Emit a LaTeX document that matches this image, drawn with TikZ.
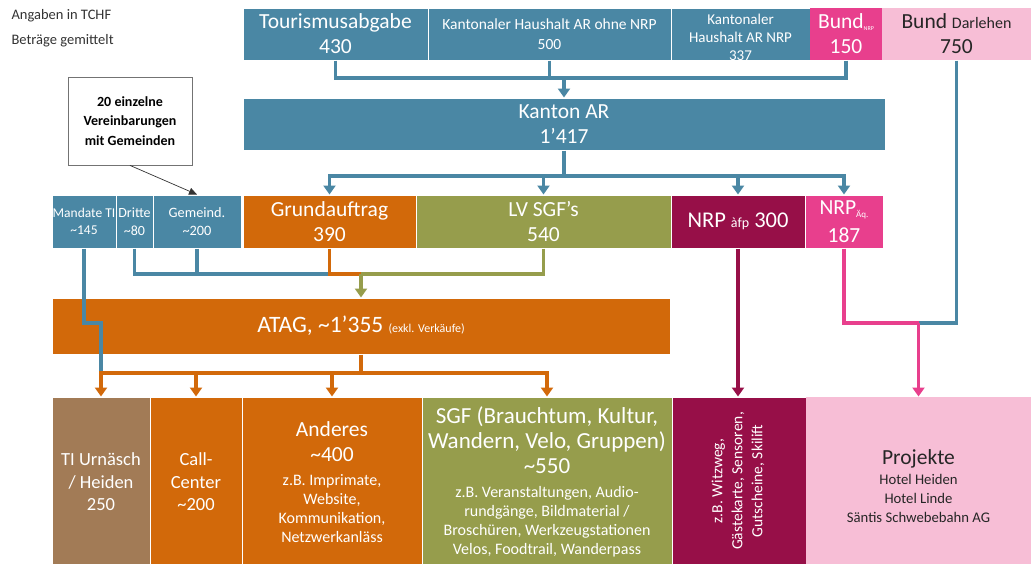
\documentclass[tikz,border=0pt]{standalone}
\usepackage{fontspec}
\setmainfont{Carlito}
\usetikzlibrary{arrows.meta}
\definecolor{cblue}{HTML}{4A87A4}
\definecolor{corange}{HTML}{D2690A}
\definecolor{colive}{HTML}{969D4C}
\definecolor{cwine}{HTML}{970F48}
\definecolor{cpink}{HTML}{E83F8D}
\definecolor{clpink}{HTML}{F7BED6}
\definecolor{cbrown}{HTML}{A27B56}
\newcommand\fbig{\fontsize{21.5}{25}\selectfont}
\newcommand\fsgf{\fontsize{23}{25}\selectfont}
\newcommand\fmid{\fontsize{18.5}{22.5}\selectfont}
\newcommand\fdet{\fontsize{16}{19}\selectfont}
\newcommand\ftl{\textasciitilde}
\tikzset{
 box/.style={draw=white, line width=1pt, inner sep=0pt, align=center, text=white},
 conn/.style={line width=3.2pt},
 tip/.style={-{Triangle[length=9pt,width=12pt]}},
 lbl/.style={anchor=west, text=black!80, font=\fontsize{14.5}{17}\selectfont},
}
\begin{document}
\begin{tikzpicture}[x=1pt,y=-1pt]
\useasboundingbox (0,0) rectangle (1031,563);
\fill[white] (0,0) rectangle (1031,563);
% legend
\node[lbl] (ang) at (8,16) {Angaben in TCHF};
\node[lbl] (bet) at (8,41) {Beträge gemittelt};
% top row
\node[box, fill=cblue, minimum width=185, minimum height=52, font=\fbig] (tour) at (335.5,34) {Tourismusabgabe\\430};
\node[box, fill=cblue, minimum width=243, minimum height=52, font=\fontsize{15.5}{20}\selectfont] (k500) at (549.5,34) {Kantonaler Haushalt AR ohne NRP\\500};
\begin{scope}
\clip (671,8) rectangle (810,60);
\node[box, fill=cblue, minimum width=139, minimum height=52] (k337) at (740.5,34) {};
\node[align=center, text=white, inner sep=0pt, font=\fontsize{15}{18}\selectfont] (k337t) at (740.5,37) {Kantonaler\\Haushalt AR NRP\\337};
\end{scope}
\node[box, fill=cpink, draw=none, minimum width=72, minimum height=52, font=\fbig] (bundnrp) at (846,34) {Bund\raisebox{-2pt}{\fontsize{6}{6}\selectfont NRP}\\150};
\node[box, fill=clpink, draw=none, minimum width=149, minimum height=52, text=black!85, font=\fbig] (bundd) at (956.5,34) {Bund {\fontsize{16}{18}\selectfont Darlehen}\\750};
% Kanton
\node[box, fill=cblue, minimum width=642, minimum height=52, font=\fbig] (kanton) at (564,124) {Kanton AR\\1’417};
% second row
\node[box, fill=cblue, minimum width=64, minimum height=53, font=\fontsize{13.5}{17}\selectfont] (mandate) at (84,221.5) {Mandate TI\\\ftl 145};
\node[box, fill=cblue, minimum width=37, minimum height=53, font=\fontsize{14}{18}\selectfont] (dritte) at (134.5,221.5) {Dritte\\\ftl 80};
\node[box, fill=cblue, minimum width=88, minimum height=53, font=\fontsize{14.3}{18}\selectfont] (gem) at (197,221.5) {Gemeind.\\\ftl 200};
\node[box, fill=corange, minimum width=173, minimum height=53, font=\fbig] (grund) at (329.5,221.5) {Grundauftrag\\390};
\node[box, fill=colive, minimum width=255, minimum height=53, font=\fbig] (lv) at (543.5,221.5) {LV SGF’s\\540};
\node[box, fill=cwine, minimum width=134, minimum height=53, font=\fontsize{22.5}{25}\selectfont] (nrpafp) at (738,221.5) {NRP {\fontsize{14}{15}\selectfont àfp} 300};
\node[box, fill=cpink, minimum width=78, minimum height=53, font=\fbig] (nrpaq) at (844,221.5) {NRP\raisebox{-3pt}{\fontsize{9}{9}\selectfont Äq.}\\[3pt]187};
% callout
\node[draw=black!55, fill=white, line width=0.8pt, minimum width=124, minimum height=88, inner sep=0pt, align=center, font=\bfseries\fontsize{14}{19.5}\selectfont, text=black] (callout) at (130,121) {20 einzelne\\Vereinbarungen\\mit Gemeinden};
% ATAG
\node[box, fill=corange, minimum width=618, minimum height=56, font=\fontsize{23.5}{25}\selectfont] (atag) at (361,326) {ATAG, \ftl 1’355 {\fontsize{12}{14}\selectfont (exkl. Verkäufe)}};
% bottom row
\node[box, fill=cbrown, minimum width=98, minimum height=170, font=\fmid] (ti) at (101,482) {TI Urnäsch\\/ Heiden\\250};
\node[box, fill=corange, minimum width=92, minimum height=170, font=\fmid] (call) at (196,482) {Call-\\Center\\\ftl 200};
\node[box, fill=corange, minimum width=180, minimum height=170, font=\fbig] (and) at (332,482) {Anderes\\\ftl 400\\[-1pt]{\fdet z.B. Imprimate,}\\[-6pt]{\fdet Website,}\\[-6pt]{\fdet Kommunikation,}\\[-6pt]{\fdet Netzwerkanläss}};
\node[box, fill=colive, minimum width=250, minimum height=170, font=\fsgf] (sgf) at (547,482) {SGF (Brauchtum, Kultur,\\Wandern, Velo, Gruppen)\\\ftl 550\\[-1pt]{\fdet z.B. Veranstaltungen, Audio-}\\[-6pt]{\fdet rundgänge, Bildmaterial /}\\[-6pt]{\fdet Broschüren, Werkzeugstationen}\\[-6pt]{\fdet Velos, Foodtrail, Wanderpass}};
\node[box, fill=cwine, minimum width=134, minimum height=170] (nrpd) at (739,482) {};
\node[rotate=90, align=center, text=white, font=\fontsize{15.5}{20}\selectfont] (nrpdt) at (738,481) {z.B. Witzweg,\\Gästekarte, Sensoren,\\Gutscheine, Skilift};
\node[box, fill=clpink, draw=none, minimum width=229, minimum height=170] (proj) at (920.5,482) {};
\node[align=center, text=black!85, inner sep=0pt, font=\fbig] (projt) at (918.5,486) {Projekte\\[-5pt]{\fontsize{14.7}{19}\selectfont Hotel Heiden}\\[-6pt]{\fontsize{14.7}{19}\selectfont Hotel Linde}\\[-6pt]{\fontsize{14.7}{19}\selectfont Säntis Schwebebahn AG}};
% connectors top
\coordinate (topj) at (564,78);
\draw[conn,cblue] (tour.south) |- (topj);
\draw[conn,cblue] (bundnrp.south) |- (topj);
\draw[conn,cblue] (k500.south) -- (k500.south |- topj);
\draw[conn,cblue,tip] (topj) -- (kanton.north);
% from Kanton
\coordinate (kj) at (564,176);
\draw[conn,cblue] (kanton.south) -- (kj);
\draw[conn,cblue,tip] (kj) -| (grund.north);
\draw[conn,cblue,tip] (kj) -| (lv.north);
\draw[conn,cblue,tip] (kj) -| (nrpafp.north);
\draw[conn,cblue,tip] (kj) -| (nrpaq.north);
% callout arrow
\draw[-{Triangle[length=8pt,width=7pt]}, line width=0.7pt, black!80] (callout.south) -- (gem.north);
% into ATAG
\coordinate (aj) at (361,274);
\draw[conn,cblue] (dritte.south) |- (grund.south |- aj);
\draw[conn,cblue] (gem.south) -- (gem.south |- aj);
\draw[conn,corange] (grund.south) |- (aj);
\draw[conn,colive] (lv.south) |- (aj);
\draw[conn,colive,tip] (aj) -- (atag.north);
% Mandate line
\coordinate (mj) at (84,323);
\coordinate (bj) at (361,373);
\draw[conn,cblue] (mandate.south) -- (mj) -| (ti.north |- bj);
% out of ATAG
\draw[conn,corange] (atag.south) -- (bj);
\draw[conn,corange,tip] (bj) -| (ti.north);
\draw[conn,corange,tip] (bj) -| (call.north);
\draw[conn,corange,tip] (bj) -| (and.north);
\draw[conn,corange,tip] (bj) -| (sgf.north);
% right side
\draw[conn,cwine,tip] (nrpafp.south) -- (nrpafp.south |- nrpd.north);
\coordinate (pj) at (918.5,323);
\draw[conn,cblue] (bundd.south) |- (pj);
\draw[conn,cpink] (nrpaq.south) |- (pj);
\draw[conn,cpink,tip] (pj) -- (pj |- proj.north);
\end{tikzpicture}
\end{document}
